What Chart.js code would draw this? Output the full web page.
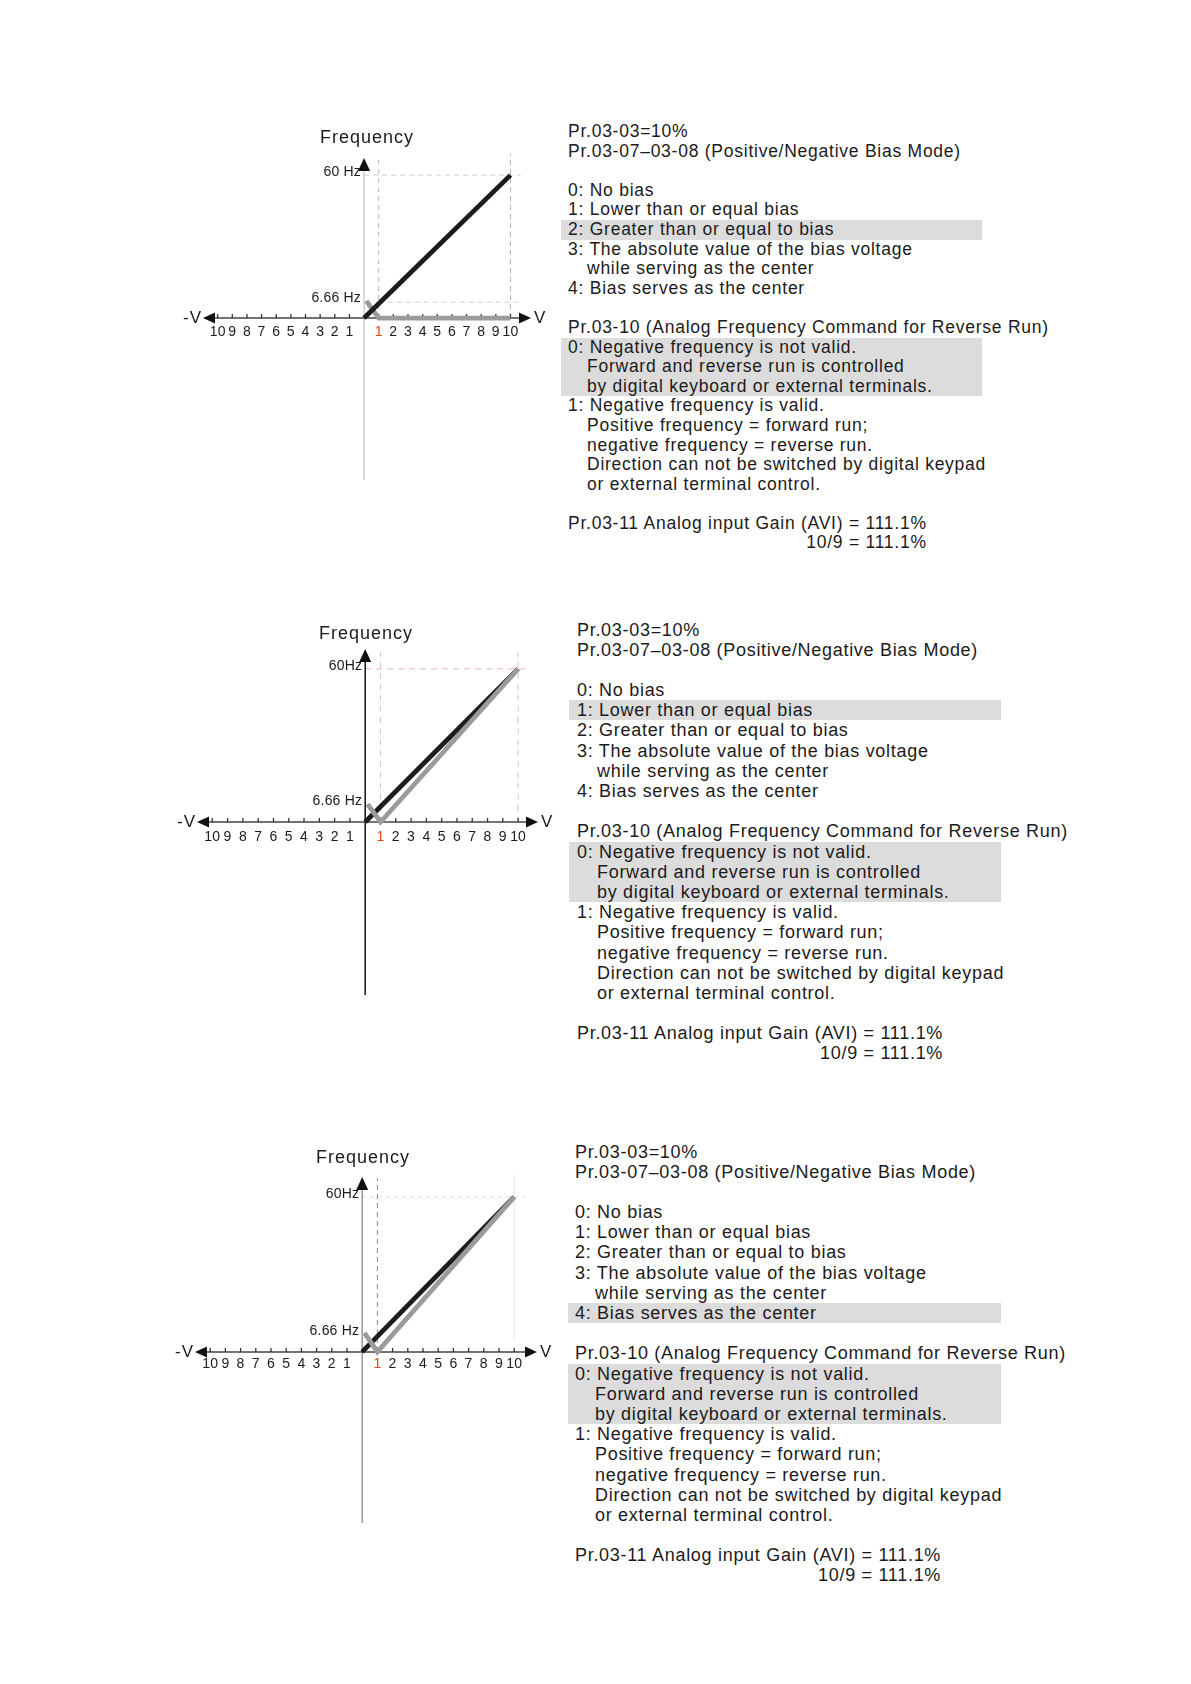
<!DOCTYPE html>
<html>
<head>
<meta charset="utf-8">
<script src="https://cdn.jsdelivr.net/npm/chart.js@4.4.1/dist/chart.umd.min.js"></script>
<style>
  body { margin: 0; background: #fff; width: 1191px; height: 1684px; position: relative; overflow: hidden;
         font-family: "Liberation Sans", Arial, sans-serif; color: #1c1a1a; }
  canvas { position: absolute; }
  .title { position: absolute; width: 200px; text-align: center; font-size: 18px; letter-spacing: 1px; line-height: 20px; }
  .block { position: absolute; }
  .line { white-space: pre; }
  .line span { display: inline-block; }
</style>
</head>
<body>
<script>
// x axis ticks (volts) and their labels
const xTicks = [-10, -9, -8, -7, -6, -5, -4, -3, -2, -1, 1, 2, 3, 4, 5, 6, 7, 8, 9, 10];
const xTickLabels = ['10', '9', '8', '7', '6', '5', '4', '3', '2', '1', '1', '2', '3', '4', '5', '6', '7', '8', '9', '10'];

// y axis marks (Hz)
const yTicks = [6.66, 60];
const yLabelsTop = ['6.66 Hz', '60 Hz'];
const yLabelsMid = ['6.66 Hz', '60Hz'];
const yLabelsBot = ['6.66 Hz', '60Hz'];

// black line: frequency command without bias
const lineX = [0, 10];
const lineY = [0, 60];

// gray line: with 10% bias (one per chart)
const biasX = [0.15, 1, 10];
const biasTopY = [7.2, 0, 0];
const biasMidY = [7.0, 0, 60];
const biasBotY = [7.4, 0, 60];

function pts(xs, ys) {
  return xs.map((v, i) => ({ x: v, y: ys[i] }));
}

// draws the crossing axes, arrows, ticks, guides and labels from the scales
const crossAxes = {
  id: 'crossAxes',
  beforeDatasetsDraw(chart, args, o) {
    const { ctx, scales: { x, y } } = chart;
    const x0 = x.getPixelForValue(0), y0 = y.getPixelForValue(0);
    ctx.save();
    o.guides.forEach(g => {
      ctx.beginPath();
      ctx.strokeStyle = g.color;
      ctx.lineWidth = 1;
      ctx.setLineDash(g.dash || []);
      if (g.v !== undefined) {
        const px = x.getPixelForValue(g.v);
        ctx.moveTo(px, y.getPixelForValue(g.from));
        ctx.lineTo(px, y.getPixelForValue(g.to));
      } else {
        const py = y.getPixelForValue(g.h);
        ctx.moveTo(x.getPixelForValue(g.from), py);
        ctx.lineTo(x.getPixelForValue(g.to), py);
      }
      ctx.stroke();
    });
    ctx.setLineDash([]);

    // y axis + arrow
    ctx.strokeStyle = o.yAxisColor;
    ctx.lineWidth = 1.5;
    ctx.beginPath();
    ctx.moveTo(x0, y.bottom);
    ctx.lineTo(x0, y.top + 10);
    ctx.stroke();
    ctx.fillStyle = '#111';
    ctx.beginPath();
    ctx.moveTo(x0, y.top);
    ctx.lineTo(x0 - 6, y.top + 13);
    ctx.lineTo(x0 + 6, y.top + 13);
    ctx.closePath();
    ctx.fill();

    // x axis + arrows
    ctx.strokeStyle = '#444';
    ctx.lineWidth = 1.5;
    ctx.beginPath();
    ctx.moveTo(x.left + 10, y0);
    ctx.lineTo(x.right - 10, y0);
    ctx.stroke();
    ctx.beginPath();
    ctx.moveTo(x.left, y0);
    ctx.lineTo(x.left + 12, y0 - 5.5);
    ctx.lineTo(x.left + 12, y0 + 5.5);
    ctx.closePath();
    ctx.fill();
    ctx.beginPath();
    ctx.moveTo(x.right, y0);
    ctx.lineTo(x.right - 12, y0 - 5.5);
    ctx.lineTo(x.right - 12, y0 + 5.5);
    ctx.closePath();
    ctx.fill();

    ctx.strokeStyle = '#333';
    ctx.lineWidth = 1.3;
    xTicks.forEach(v => {
      const px = x.getPixelForValue(v);
      ctx.beginPath();
      ctx.moveTo(px, y0 - 4);
      ctx.lineTo(px, y0);
      ctx.stroke();
    });
    ctx.restore();
  },
  afterDatasetsDraw(chart, args, o) {
    const { ctx, scales: { x, y } } = chart;
    const x0 = x.getPixelForValue(0), y0 = y.getPixelForValue(0);
    ctx.save();
    ctx.textBaseline = 'middle';
    ctx.font = '14px "Liberation Sans", Arial, sans-serif';
    ctx.letterSpacing = '0.2px';
    ctx.textAlign = 'center';
    xTicks.forEach((v, i) => {
      ctx.fillStyle = v === 1 ? '#e2461c' : '#1c1a1a';
      ctx.fillText(xTickLabels[i], x.getPixelForValue(v), y0 + o.tickDy);
    });
    ctx.fillStyle = '#1c1a1a';
    ctx.textAlign = 'right';
    ctx.font = '14px "Liberation Sans", Arial, sans-serif';
    yTicks.forEach((v, i) => {
      ctx.fillText(o.yLabels[i], x0 - 3, y.getPixelForValue(v) - (i === 0 ? 4 : 3));
    });
    ctx.font = '17px "Liberation Sans", Arial, sans-serif';
    ctx.letterSpacing = '1px';
    ctx.fillText('-V', x.left - 1, y0);
    ctx.textAlign = 'left';
    ctx.fillText('V', x.right + 3, y0);
    ctx.restore();
  }
};

const panels = [
  { area: [203, 158, 531, 480], xr: [-11, 11.4], yr: [-68, 67.2], gray: biasTopY, yLabels: yLabelsTop,
    yAxisColor: '#cfcfcf', tickDy: 14, grayOnTop: false, title: [367, 137],
    guides: [
      { v: 1, from: 0, to: 67.2, color: '#b5b5b5', dash: [5, 4] },
      { v: 10, from: 0, to: 69, color: '#b5b5b5', dash: [5, 4] },
      { h: 60, from: 0, to: 10.7, color: '#cdcdcd', dash: [5, 4] },
      { h: 6.66, from: 1, to: 10.7, color: '#cdcdcd', dash: [5, 4] }
    ] },
  { area: [197, 649, 538, 995], xr: [-11, 11.3], yr: [-67.8, 67.8], gray: biasMidY, yLabels: yLabelsMid,
    yAxisColor: '#111', tickDy: 15, grayOnTop: true, title: [366, 633],
    guides: [
      { v: 1, from: 0, to: 66.8, color: '#cccccc', dash: [6, 5] },
      { v: 10, from: 0, to: 66.8, color: '#cccccc', dash: [6, 5] },
      { h: 60, from: 0, to: 10.6, color: '#e8b3b8', dash: [6, 5] }
    ] },
  { area: [195, 1177, 537, 1523], xr: [-11, 11.5], yr: [-66.2, 67.7], gray: biasBotY, yLabels: yLabelsBot,
    yAxisColor: '#999', tickDy: 12, grayOnTop: true, title: [363, 1157],
    guides: [
      { v: 1, from: 0, to: 67.3, color: '#888', dash: [5, 4] },
      { v: 10, from: 4.5, to: 68.5, color: '#e6e6e6' },
      { h: 60, from: 0, to: 10.7, color: '#dddddd', dash: [4, 4] }
    ] }
];

panels.forEach(p => {
  const cl = 140, cw = 420;
  const ct = p.area[1] - 12, ch = p.area[3] - p.area[1] + 24;
  const cv = document.createElement('canvas');
  cv.width = cw; cv.height = ch;
  cv.style.left = cl + 'px'; cv.style.top = ct + 'px';
  document.body.appendChild(cv);

  const t = document.createElement('div');
  t.className = 'title';
  t.textContent = 'Frequency';
  t.style.left = (p.title[0] - 100) + 'px';
  t.style.top = (p.title[1] - 10) + 'px';
  document.body.appendChild(t);

  const black = { data: pts(lineX, lineY), borderColor: '#1c1c1c', borderWidth: 4.8, showLine: true,
                  pointRadius: 0, borderJoinStyle: 'miter' };
  const gray = { data: pts(biasX, p.gray), borderColor: '#9b9b9b', borderWidth: 4.8, showLine: true,
                 pointRadius: 0, borderJoinStyle: 'miter' };

  new Chart(cv, {
    type: 'scatter',
    data: { datasets: p.grayOnTop ? [gray, black] : [black, gray] },
    options: {
      responsive: false,
      animation: false,
      devicePixelRatio: 1,
      layout: { padding: { left: p.area[0] - cl, right: cl + cw - p.area[2], top: 12, bottom: 12 } },
      scales: {
        x: { type: 'linear', min: p.xr[0], max: p.xr[1], display: false },
        y: { type: 'linear', min: p.yr[0], max: p.yr[1], display: false }
      },
      plugins: {
        legend: { display: false },
        tooltip: { enabled: false },
        crossAxes: { guides: p.guides, yAxisColor: p.yAxisColor, tickDy: p.tickDy, yLabels: p.yLabels }
      }
    },
    plugins: [crossAxes]
  });
});

// text next to each chart
const textLines = [
  [0, 'Pr.03-03=10%'],
  [0, 'Pr.03-07\u201303-08 (Positive/Negative Bias Mode)'],
  [0, ''],
  [0, '0: No bias'],
  [0, '1: Lower than or equal bias'],
  [0, '2: Greater than or equal to bias'],
  [0, '3: The absolute value of the bias voltage'],
  [1, 'while serving as the center'],
  [0, '4: Bias serves as the center'],
  [0, ''],
  [0, 'Pr.03-10 (Analog Frequency Command for Reverse Run)'],
  [0, '0: Negative frequency is not valid.'],
  [1, 'Forward and reverse run is controlled'],
  [1, 'by digital keyboard or external terminals.'],
  [0, '1: Negative frequency is valid.'],
  [1, 'Positive frequency = forward run;'],
  [1, 'negative frequency = reverse run.'],
  [1, 'Direction can not be switched by digital keypad'],
  [1, 'or external terminal control.'],
  [0, ''],
  [0, 'Pr.03-11 Analog input Gain (AVI) = 111.1%'],
  [2, '10/9 = 111.1%']
];

const blocks = [
  { left: 568, top: 122, lh: 19.6, fs: 17.5, ls: 0.75, indent: 19, hlLeft: -7, hlWidth: 421, hl: [5, 11, 12, 13] },
  { left: 577, top: 619.5, lh: 20.2, fs: 18, ls: 0.7, indent: 20, hlLeft: -8, hlWidth: 432, hl: [4, 11, 12, 13] },
  { left: 575, top: 1141.5, lh: 20.2, fs: 18, ls: 0.7, indent: 20, hlLeft: -7, hlWidth: 433, hl: [8, 11, 12, 13] }
];

blocks.forEach(b => {
  const d = document.createElement('div');
  d.className = 'block';
  d.style.left = b.left + 'px';
  d.style.top = b.top + 'px';
  d.style.fontSize = b.fs + 'px';
  d.style.letterSpacing = b.ls + 'px';
  d.style.lineHeight = b.lh + 'px';
  const spans = [];
  textLines.forEach((l, i) => {
    const ld = document.createElement('div');
    ld.className = 'line';
    ld.style.height = b.lh + 'px';
    if (b.hl.includes(i)) {
      ld.style.background = '#dcdcdc';
      ld.style.marginLeft = b.hlLeft + 'px';
      ld.style.paddingLeft = (-b.hlLeft) + 'px';
      ld.style.width = (b.hlWidth + b.hlLeft) + 'px';
    }
    const s = document.createElement('span');
    s.textContent = l[1];
    if (l[0] === 1) s.style.marginLeft = b.indent + 'px';
    ld.appendChild(s);
    d.appendChild(ld);
    spans.push([l[0], s]);
  });
  document.body.appendChild(d);
  // right-align the last line under the gain line
  const n = spans.length;
  const w1 = spans[n - 2][1].getBoundingClientRect().width;
  const w2 = spans[n - 1][1].getBoundingClientRect().width;
  spans[n - 1][1].style.marginLeft = (w1 - w2) + 'px';
});
</script>
</body>
</html>
